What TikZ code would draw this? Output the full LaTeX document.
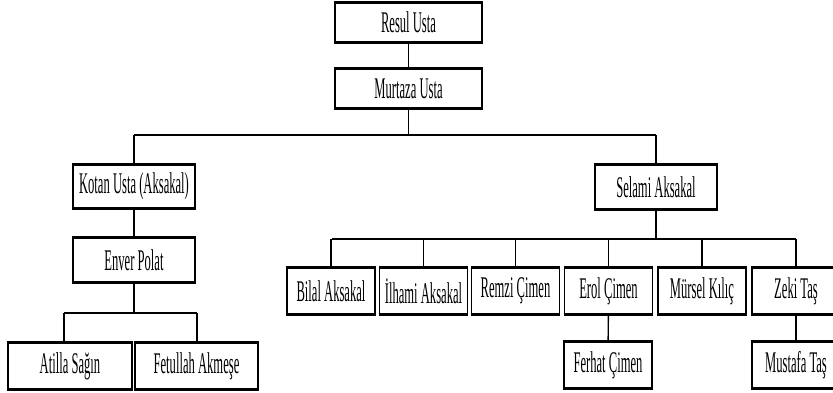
\documentclass[tikz,border=0pt]{standalone}
\usepackage{fontspec}
\setmainfont[FakeStretch=0.42]{Liberation Serif}
\usetikzlibrary{positioning}

\begin{document}
\begin{tikzpicture}[x=1pt,y=-1pt,
    person/.style={draw,line width=1.2pt,inner sep=0pt,minimum width=88pt,minimum height=46pt,font=\fontsize{30}{32}\selectfont},
    link/.style={line width=1.4pt},
    bus/.style={line width=2.4pt}]
    \useasboundingbox (0,0) rectangle (833,392);

    % generations
    \node[person,minimum width=147pt,minimum height=39pt] (resul) at (408.5,22.5) {Resul Usta};
    \node[person,minimum width=147pt,minimum height=39pt] (murtaza) at (408.5,88.5) {Murtaza Usta};
    \node[person,minimum width=122pt,minimum height=43pt] (kotan) at (134,186.5) {Kotan Usta (Aksakal)};
    \node[person,minimum width=122pt,minimum height=44pt] (enver) at (134,260) {Enver Polat};
    \node[person,minimum width=124pt] (atilla) at (70,366) {Atilla Sağın};
    \node[person,minimum width=123pt] (fetullah) at (196.5,366) {Fetullah Akmeşe};
    \node[person,minimum width=122pt,minimum height=44pt] (selami) at (656,187) {Selami Aksakal};
    \node[person] (bilal) at (331,291) {Bilal Aksakal};
    \node[person] (ilhami) at (423.5,291) {İlhami Aksakal};
    \node[person] (remzi) at (515.5,291) {Remzi Çimen};
    \node[person] (erol) at (608.5,291) {Erol Çimen};
    \node[person] (mursel) at (702,291) {Mürsel Kılıç};
    \node[person] (zeki) at (796,291) {Zeki Taş};
    \node[person] (ferhat) at (608,365) {Ferhat Çimen};
    \node[person] (mustafa) at (796,365) {Mustafa Taş};

    \foreach \n in {resul,murtaza,kotan,enver,atilla,fetullah,selami,bilal,ilhami,remzi,erol,mursel,zeki,ferhat,mustafa}
        \draw[line width=2.6pt] (\n.north west) -- (\n.north east) (\n.south west) -- (\n.south east);

    % bus lines
    \coordinate (b1) at (408.5,135);
    \coordinate (b1l) at (134,135);
    \coordinate (b1r) at (656,135);
    \coordinate (b2) at (134,313);
    \coordinate (b2l) at (64,313);
    \coordinate (b2r) at (197,313);
    \coordinate (b3) at (656,239);
    \coordinate (b3l) at (332,239);
    \coordinate (b3r) at (796,239);

    \draw[bus] (b1l) -- (b1r);
    \draw[bus] (b2l) -- (b2r);
    \draw[bus] (b3l) -- (b3r);

    \draw[link] (resul) -- (murtaza);
    \draw[link] (murtaza) -- (b1);
    \draw[link] (b1l) -- (kotan);
    \draw[link] (b1r) -- (selami);
    \draw[link] (kotan) -- (enver);
    \draw[link] (enver) -- (b2);
    \draw[link] (b2l) -- (b2l |- atilla.north);
    \draw[link] (b2r) -- (b2r |- fetullah.north);
    \draw[link] (selami) -- (b3);
    \foreach \n in {bilal,ilhami,remzi,erol,mursel,zeki}
        \draw[link] (\n.north |- b3l) -- (\n.north);
    \draw[link] (erol) -- (ferhat);
    \draw[link] (zeki) -- (mustafa);
\end{tikzpicture}
\end{document}
